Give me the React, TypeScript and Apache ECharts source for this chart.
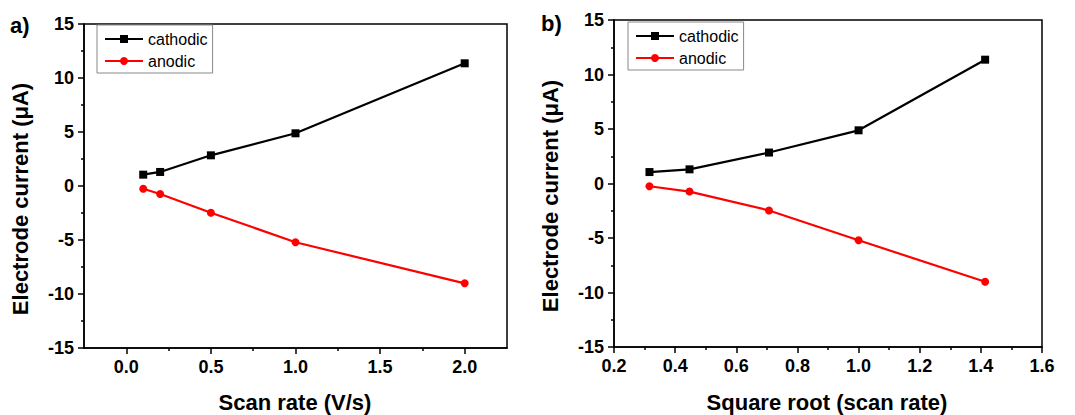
import React, { useEffect, useRef } from "react";
import * as echarts from "echarts";

const scanRate = [0.1, 0.2, 0.5, 1.0, 2.0];
const sqrtScanRate = [0.316, 0.447, 0.707, 1.0, 1.414];
const cathodic = [1.05, 1.3, 2.84, 4.88, 11.36];
const anodic = [-0.25, -0.74, -2.47, -5.21, -9.01];
const xMajorA = [0, 0.5, 1.0, 1.5, 2.0];
const xMinorA = [0.25, 0.75, 1.25, 1.75];

const FONT = 'Arial, "Liberation Sans", sans-serif';

export default function App() {
  const ref = useRef<HTMLDivElement>(null);
  useEffect(() => {
    document.body.style.margin = "0";
    const chart = echarts.init(ref.current!, undefined, { renderer: "svg" });
    const axisLine = { show: true, onZero: false, lineStyle: { color: "#000", width: 1.5 } };
    const yAxisCommon = (gridIndex: number) => ({
      type: "value",
      gridIndex,
      min: -15,
      max: 15,
      interval: 5,
      axisLine,
      axisTick: { show: true, length: 6, lineStyle: { color: "#000", width: 1.5 } },
      minorTick: { show: true, splitNumber: 2, length: 3, lineStyle: { color: "#000", width: 1.5 } },
      splitLine: { show: false },
      axisLabel: { color: "#000", fontSize: 18, fontWeight: "bold", fontFamily: FONT, margin: 10 },
    });
    const labelStyle = { color: "#000", fontSize: 18, fontWeight: "bold", fontFamily: FONT, margin: 10 };
    const mkSeries = (xs: number[], xi: number, yi: number) => [
      {
        name: "cathodic",
        type: "line",
        xAxisIndex: xi,
        yAxisIndex: yi,
        data: xs.map((x, i) => [x, cathodic[i]]),
        symbol: "rect",
        symbolSize: 8,
        lineStyle: { color: "#000", width: 2.2 },
        itemStyle: { color: "#000" },
      },
      {
        name: "anodic",
        type: "line",
        xAxisIndex: xi,
        yAxisIndex: yi,
        data: xs.map((x, i) => [x, anodic[i]]),
        symbol: "circle",
        symbolSize: 8,
        lineStyle: { color: "#ff0000", width: 2.2 },
        itemStyle: { color: "#ff0000" },
      },
    ];
    const legendCommon = {
      orient: "vertical",
      backgroundColor: "#fff",
      borderColor: "#888",
      borderWidth: 1,
      borderRadius: 0,
      padding: [6, 5, 4, 7],
      itemWidth: 38,
      itemHeight: 10,
      itemGap: 6,
      textStyle: { color: "#000", fontSize: 16, fontFamily: FONT },
      data: ["cathodic", "anodic"],
    };
    const titleStyle = { fill: "#000", fontSize: 22, fontWeight: "bold", fontFamily: FONT };
    chart.setOption({
      animation: false,
      grid: [
        { left: 84, top: 24, width: 423, height: 324, show: true, borderColor: "#000", borderWidth: 1.5 },
        { left: 614, top: 20, width: 428, height: 327, show: true, borderColor: "#000", borderWidth: 1.5 },
      ],
      xAxis: [
        {
          type: "value",
          gridIndex: 0,
          position: "bottom",
          min: -0.25,
          max: 2.25,
          axisLine,
          axisTick: { show: true, length: 6, customValues: xMajorA, lineStyle: { color: "#000", width: 1.5 } },
          axisLabel: { ...labelStyle, customValues: xMajorA, formatter: (v: number) => v.toFixed(1) },
          splitLine: { show: false },
        },
        {
          type: "value",
          gridIndex: 0,
          position: "bottom",
          min: -0.25,
          max: 2.25,
          axisLine: { show: false, onZero: false },
          axisTick: { show: true, length: 3, customValues: xMinorA, lineStyle: { color: "#000", width: 1.5 } },
          axisLabel: { show: false },
          splitLine: { show: false },
        },
        {
          type: "value",
          gridIndex: 1,
          position: "bottom",
          min: 0.2,
          max: 1.6,
          interval: 0.2,
          axisLine,
          axisTick: { show: true, length: 6, lineStyle: { color: "#000", width: 1.5 } },
          minorTick: { show: true, splitNumber: 2, length: 3, lineStyle: { color: "#000", width: 1.5 } },
          axisLabel: { ...labelStyle, formatter: (v: number) => v.toFixed(1) },
          splitLine: { show: false },
        },
      ],
      yAxis: [yAxisCommon(0), yAxisCommon(1)],
      legend: [
        { ...legendCommon, left: 97, top: 25 },
        { ...legendCommon, left: 628, top: 22 },
      ],
      series: [...mkSeries(scanRate, 0, 0), ...mkSeries(sqrtScanRate, 2, 1)],
      graphic: [
        { type: "text", left: 10, top: 14, style: { ...titleStyle, text: "a)" } },
        { type: "text", left: 541, top: 12, style: { ...titleStyle, text: "b)" } },
        {
          type: "text",
          x: 20,
          y: 199,
          rotation: Math.PI / 2,
          style: { ...titleStyle, text: "Electrode current (μA)", align: "center", verticalAlign: "middle" },
        },
        {
          type: "text",
          x: 550,
          y: 196,
          rotation: Math.PI / 2,
          style: { ...titleStyle, text: "Electrode current (μA)", align: "center", verticalAlign: "middle" },
        },
        {
          type: "text",
          x: 295,
          y: 402,
          style: { ...titleStyle, text: "Scan rate (V/s)", align: "center", verticalAlign: "middle" },
        },
        {
          type: "text",
          x: 827,
          y: 402,
          style: { ...titleStyle, text: "Square root (scan rate)", align: "center", verticalAlign: "middle" },
        },
      ],
    });
    return () => chart.dispose();
  }, []);
  return <div ref={ref} style={{ width: 1075, height: 415 }} />;
}
